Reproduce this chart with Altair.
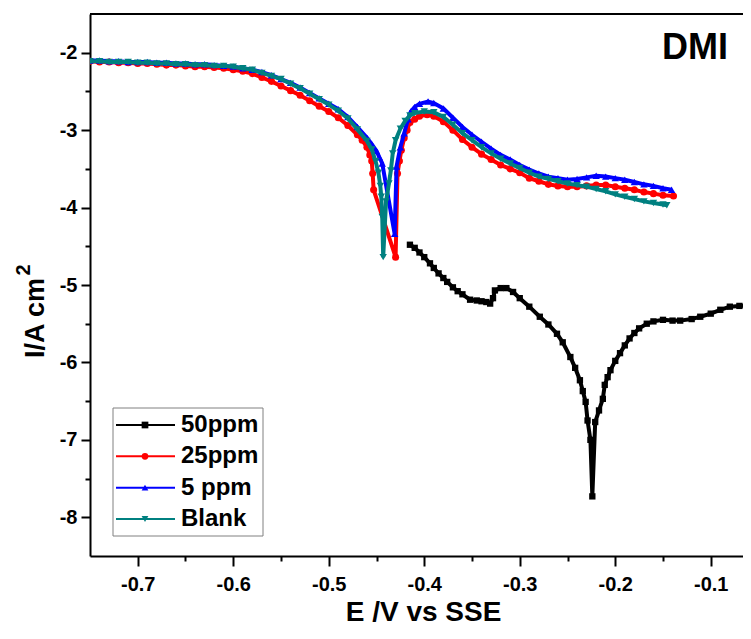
import altair as alt
import pandas as pd

SERIES = ["50ppm", "25ppm", "5 ppm", "Blank"]
COLORS = ["#000000", "#FF0000", "#0000FF", "#008080"]
SHAPES = ["square", "circle", "triangle-up", "triangle-down"]
SIZES = [40, 50, 55, 55]

X_TICKS = [-0.7, -0.65, -0.6, -0.55, -0.5, -0.45, -0.4, -0.35, -0.3, -0.25, -0.2, -0.15, -0.1]
Y_TICKS = [-8, -7.5, -7, -6.5, -6, -5.5, -5, -4.5, -4, -3.5, -3, -2.5, -2]

E_50 = [-0.415, -0.41, -0.405, -0.40, -0.394, -0.39, -0.385, -0.38, -0.376, -0.37,
        -0.365, -0.36, -0.352, -0.345, -0.34, -0.335, -0.331, -0.328, -0.326, -0.32,
        -0.314, -0.307, -0.30, -0.29, -0.279, -0.27, -0.261, -0.255, -0.247, -0.242,
        -0.237, -0.234, -0.231, -0.229, -0.226, -0.224, -0.221, -0.217, -0.213, -0.211,
        -0.208, -0.205, -0.20, -0.195, -0.19, -0.185, -0.18, -0.175, -0.167, -0.16,
        -0.15, -0.14, -0.132, -0.12, -0.111, -0.10, -0.09, -0.08, -0.07, -0.059]
I_50 = [-4.48, -4.52, -4.58, -4.64, -4.72, -4.78, -4.85, -4.91, -4.96, -5.03,
        -5.08, -5.12, -5.19, -5.20, -5.21, -5.22, -5.24, -5.17, -5.07, -5.04,
        -5.04, -5.09, -5.17, -5.28, -5.41, -5.51, -5.63, -5.74, -5.93, -6.07,
        -6.23, -6.37, -6.51, -6.75, -7.00, -7.73, -6.77, -6.62, -6.47, -6.29,
        -6.19, -6.10, -5.98, -5.88, -5.78, -5.69, -5.62, -5.56, -5.50, -5.47,
        -5.45, -5.46, -5.46, -5.44, -5.41, -5.37, -5.32, -5.28, -5.27, -5.26]

E_25 = [-0.75, -0.74, -0.73, -0.72, -0.71, -0.70, -0.69, -0.68, -0.67, -0.66,
        -0.65, -0.64, -0.63, -0.62, -0.61, -0.60, -0.59, -0.58, -0.57, -0.56,
        -0.55, -0.54, -0.53, -0.52, -0.51, -0.50, -0.49, -0.48, -0.47,
        -0.465, -0.46, -0.457, -0.455, -0.454, -0.453, -0.430,
        -0.428, -0.426, -0.424, -0.421, -0.418, -0.415, -0.41, -0.405, -0.397, -0.39,
        -0.38, -0.37, -0.36, -0.35, -0.34, -0.33, -0.32, -0.31, -0.30, -0.29,
        -0.28, -0.27, -0.26, -0.25, -0.24, -0.23, -0.22, -0.21, -0.20, -0.19,
        -0.18, -0.17, -0.16, -0.15, -0.139]
I_25 = [-2.11, -2.12, -2.12, -2.13, -2.13, -2.14, -2.14, -2.15, -2.16, -2.16,
        -2.17, -2.18, -2.18, -2.19, -2.20, -2.22, -2.24, -2.27, -2.32, -2.37,
        -2.43, -2.49, -2.55, -2.62, -2.69, -2.76, -2.84, -2.94, -3.06,
        -3.13, -3.22, -3.32, -3.40, -3.56, -3.77, -4.64,
        -3.56, -3.40, -3.26, -3.10, -3.00, -2.90, -2.86, -2.82, -2.80, -2.82,
        -2.89, -3.00, -3.12, -3.22, -3.31, -3.38, -3.45, -3.50, -3.55, -3.62,
        -3.66, -3.70, -3.72, -3.73, -3.73, -3.72, -3.71, -3.71, -3.73, -3.75,
        -3.77, -3.80, -3.82, -3.84, -3.85]

E_5 = [-0.75, -0.74, -0.73, -0.72, -0.71, -0.70, -0.69, -0.68, -0.67, -0.66,
       -0.65, -0.64, -0.63, -0.62, -0.61, -0.60, -0.59, -0.58, -0.57, -0.56,
       -0.55, -0.54, -0.53, -0.52, -0.51, -0.50, -0.49, -0.48, -0.47, -0.46,
       -0.455, -0.45, -0.447, -0.444, -0.431,
       -0.429, -0.425, -0.421, -0.417, -0.414, -0.41, -0.405, -0.396, -0.39,
       -0.38, -0.37, -0.36, -0.35, -0.34, -0.33, -0.32, -0.31, -0.30, -0.29,
       -0.28, -0.27, -0.26, -0.25, -0.24, -0.23, -0.22, -0.21, -0.20, -0.19,
       -0.18, -0.17, -0.16, -0.15, -0.141]
I_5 = [-2.10, -2.10, -2.11, -2.11, -2.12, -2.12, -2.12, -2.13, -2.13, -2.14,
       -2.14, -2.15, -2.15, -2.16, -2.17, -2.18, -2.20, -2.22, -2.25, -2.29,
       -2.34, -2.39, -2.45, -2.52, -2.59, -2.66, -2.73, -2.83, -2.96, -3.10,
       -3.18, -3.27, -3.35, -3.43, -4.34,
       -3.47, -3.22, -3.04, -2.86, -2.76, -2.70, -2.66, -2.63, -2.65,
       -2.72, -2.84, -2.96, -3.06, -3.15, -3.24, -3.32, -3.38, -3.45, -3.51,
       -3.56, -3.60, -3.62, -3.64, -3.63, -3.61, -3.59, -3.60, -3.62, -3.64,
       -3.67, -3.70, -3.72, -3.75, -3.77]

E_BLANK = [-0.75, -0.74, -0.73, -0.72, -0.71, -0.70, -0.69, -0.68, -0.67, -0.66,
           -0.65, -0.64, -0.63, -0.62, -0.61, -0.60, -0.59, -0.58, -0.57, -0.56,
           -0.55, -0.54, -0.53, -0.52, -0.51, -0.50, -0.49, -0.48, -0.47, -0.46,
           -0.455, -0.451, -0.448, -0.446, -0.445, -0.444, -0.443,
           -0.440, -0.437, -0.435, -0.433, -0.430, -0.425, -0.420, -0.415,
           -0.41, -0.40, -0.39, -0.38, -0.37, -0.36, -0.35, -0.34, -0.33, -0.32,
           -0.31, -0.30, -0.29, -0.28, -0.27, -0.26, -0.25, -0.24, -0.23, -0.22,
           -0.21, -0.20, -0.19, -0.18, -0.17, -0.16, -0.15, -0.146]
I_BLANK = [-2.11, -2.11, -2.12, -2.12, -2.12, -2.13, -2.13, -2.14, -2.14, -2.15,
           -2.15, -2.16, -2.16, -2.17, -2.17, -2.18, -2.20, -2.22, -2.26, -2.30,
           -2.34, -2.40, -2.46, -2.53, -2.60, -2.67, -2.75, -2.85, -2.99, -3.14,
           -3.25, -3.40, -3.55, -3.72, -3.86, -4.12, -4.64,
           -3.92, -3.69, -3.52, -3.30, -3.13, -2.98, -2.88, -2.81,
           -2.78, -2.76, -2.77, -2.83, -2.93, -3.04, -3.13, -3.22, -3.30, -3.37,
           -3.43, -3.49, -3.55, -3.60, -3.63, -3.66, -3.69, -3.71, -3.73, -3.76,
           -3.79, -3.83, -3.86, -3.89, -3.92, -3.94, -3.96, -3.97]

DATA = {"50ppm": (E_50, I_50), "25ppm": (E_25, I_25),
        "5 ppm": (E_5, I_5), "Blank": (E_BLANK, I_BLANK)}

W, H = 653, 542
FONT = "Liberation Sans"

x_minor = "abs(datum.value*10 - round(datum.value*10)) > 0.001"
y_minor = "abs(datum.value - round(datum.value)) > 0.001"

x_axis = alt.Axis(
    values=X_TICKS,
    tickSize={"condition": {"test": x_minor, "value": 5}, "value": 10},
    labelExpr="(" + x_minor + ") ? '' : ((datum.value < 0 ? '-' : '') + format(abs(datum.value), '.1f'))",
    labelPadding=8, labelOverlap=False, labelFlush=False,
    title="E /V vs SSE", titleFontSize=28, titleFont=FONT, titleFontWeight="bold",
    titleX=333, titleY=64, titleBaseline="alphabetic", titleAlign="center",
    titleColor="black",
)
y_axis = alt.Axis(
    values=Y_TICKS,
    tickSize={"condition": {"test": y_minor, "value": 5}, "value": 9},
    labelExpr="(" + y_minor + ") ? '' : ((datum.value < 0 ? '-' : '') + format(abs(datum.value), 'd'))",
    labelPadding=4, labelOverlap=False, labelFlush=False,
    title=None,
)

x_enc = alt.X("E:Q", scale=alt.Scale(domain=[-0.75, -0.75 + W / 955.0], nice=False, zero=False), axis=x_axis)
y_enc = alt.Y("I:Q", scale=alt.Scale(domain=[-8.5, -1.5], nice=False, zero=False), axis=y_axis)
color_enc = alt.Color("series:N", scale=alt.Scale(domain=SERIES, range=COLORS), legend=None)
shape_enc = alt.Shape("series:N", scale=alt.Scale(domain=SERIES, range=SHAPES), legend=None)

layers = []
for i, name in enumerate(SERIES):
    E, I = DATA[name]
    d = pd.DataFrame({"E": E, "I": I, "series": name, "idx": list(range(len(E)))})
    base = alt.Chart(d)
    layers.append(base.mark_line(strokeWidth=4, clip=True).encode(
        x=x_enc, y=y_enc, color=color_enc, order="idx:Q"))
    layers.append(base.mark_point(filled=True, opacity=1, size=SIZES[i], clip=True).encode(
        x=x_enc, y=y_enc, color=color_enc, shape=shape_enc))
main = alt.layer(*layers)

one = pd.DataFrame({"k": [0]})
leg = pd.DataFrame({"series": SERIES})
leg_y = alt.Y("series:N", scale=alt.Scale(type="point", domain=SERIES, range=[411, 505], padding=0), axis=None)

box = alt.Chart(one).mark_rect(fill="white", stroke="#808080", strokeWidth=1).encode(
    x=alt.value(23), x2=alt.value(173), y=alt.value(394), y2=alt.value(522))
leg_line = alt.Chart(leg).mark_rule(strokeWidth=2).encode(
    x=alt.value(26), x2=alt.value(85), y=leg_y, color=color_enc)
leg_pt = alt.Chart(leg).mark_point(filled=True, opacity=1, size=45).encode(
    x=alt.value(55), y=leg_y, color=color_enc, shape=shape_enc)
leg_txt = alt.Chart(leg).mark_text(align="left", baseline="middle", fontSize=24,
                                   font=FONT, fontWeight="bold", color="black").encode(
    x=alt.value(91), y=leg_y, text="series:N")

top_rule = alt.Chart(one).mark_rule(color="black", strokeWidth=2).encode(
    x=alt.value(0), x2=alt.value(W), y=alt.value(0))
dmi = alt.Chart(one).mark_text(text="DMI", fontSize=36, font=FONT, fontWeight="bold",
                               align="center", baseline="middle", color="black").encode(
    x=alt.value(605), y=alt.value(34))
ytitle = alt.Chart(one).mark_text(text="I/A cm", fontSize=27, font=FONT, fontWeight="bold",
                                  align="center", baseline="alphabetic", angle=270,
                                  color="black").encode(x=alt.value(-46), y=alt.value(304))
ysup = alt.Chart(one).mark_text(text="2", fontSize=20, font=FONT, fontWeight="bold",
                                align="center", baseline="alphabetic", angle=270,
                                color="black").encode(x=alt.value(-60), y=alt.value(256))

extra = alt.layer(box, leg_line, leg_pt, leg_txt, top_rule, dmi, ytitle, ysup)

chart = alt.layer(main, extra).resolve_scale(y="independent").properties(
    width=W, height=H,
    autosize=alt.AutoSizeParams(type="none"),
    padding={"left": 82, "top": 6, "right": 0, "bottom": 72},
).configure_view(strokeWidth=0).configure_axis(
    domainColor="black", domainWidth=2, tickColor="black", tickWidth=2,
    labelFont=FONT, labelFontSize=20, labelFontWeight="bold", labelColor="black",
    grid=False,
)

chart.save("out.html", embed_options={"renderer": "svg", "actions": False})
